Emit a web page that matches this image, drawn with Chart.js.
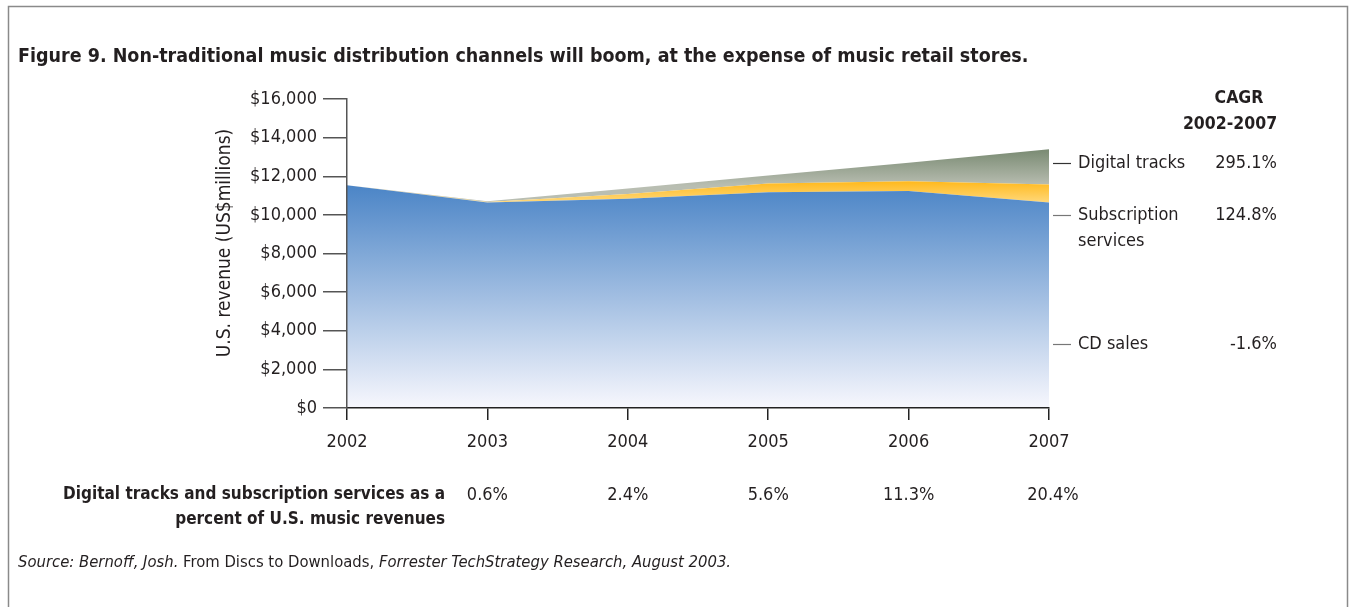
<!DOCTYPE html>
<html>
<head>
<meta charset="utf-8">
<script src="https://cdn.jsdelivr.net/npm/chart.js@4.4.1/dist/chart.umd.min.js"></script>
<style>
  html, body { margin: 0; padding: 0; background: #fff; }
  #wrap { width: 1351px; height: 607px; position: relative; }
</style>
</head>
<body>
<div id="wrap"><canvas id="revenue"></canvas></div>
<script>
// US music revenue by channel, $ millions (stacked)
const years = ['2002', '2003', '2004', '2005', '2006', '2007'];
const cdSales = [11530, 10640, 10830, 11170, 11240, 10640];
const subscriptions = [0, 25, 250, 450, 500, 930];
const digitalTracks = [0, 40, 280, 420, 960, 1830];
const yTicks = [0, 2000, 4000, 6000, 8000, 10000, 12000, 14000, 16000];

// share of digital + subscription in total music revenues (%)
const digitalShare = [null, 0.6, 2.4, 5.6, 11.3, 20.4];
// compound annual growth 2002-2007 (%)
const cagrLabels = ['Digital tracks', 'Subscription', 'CD sales'];
const cagrValues = [295.1, 124.8, -1.6];

const FONT = "'Liberation Sans Narrow', 'DejaVu Sans Condensed', 'Liberation Sans', sans-serif";
const INK = '#231f20';

function vGradient(chart, fromVal, toVal, c1, c2, fallback) {
  const { chartArea, scales } = chart;
  if (!chartArea) return fallback;
  const y1 = scales.y.getPixelForValue(fromVal);
  const y2 = scales.y.getPixelForValue(toVal);
  const g = chart.ctx.createLinearGradient(0, y1, 0, y2);
  g.addColorStop(0, c1);
  g.addColorStop(1, c2);
  return g;
}

const decorations = {
  id: 'decorations',
  beforeDraw(chart) {
    const c = chart.ctx;
    c.save();
    c.fillStyle = '#fff';
    c.fillRect(0, 0, chart.width, chart.height);
    c.strokeStyle = '#8a8a8a';
    c.lineWidth = 1.5;
    c.strokeRect(8.5, 6.5, 1339, 620);
    c.restore();
  },
  afterDraw(chart) {
    const c = chart.ctx;
    const x = chart.scales.x;
    c.save();
    c.fillStyle = INK;
    c.textBaseline = 'middle';

    // title
    c.font = 'bold 19.5px ' + FONT;
    c.textAlign = 'left';
    c.fillText('Figure 9. Non-traditional music distribution channels will boom, at the expense of music retail stores.', 18, 57);

    // y axis title
    c.save();
    c.translate(225, 243);
    c.rotate(-Math.PI / 2);
    c.textAlign = 'center';
    c.font = '19px ' + FONT;
    c.fillText('U.S. revenue (US$millions)', 0, 0);
    c.restore();

    // CAGR column
    c.font = 'bold 17.5px ' + FONT;
    c.textAlign = 'center';
    c.fillText('CAGR', 1239, 98);
    c.fillText('2002-2007', 1230, 124);

    const rows = [163, 215, 344];
    c.lineWidth = 1.2;
    rows.forEach((ry, i) => {
      c.strokeStyle = i === 0 ? '#333' : '#777';
      c.beginPath();
      c.moveTo(1053, ry + 0.5);
      c.lineTo(1071, ry + 0.5);
      c.stroke();
      c.font = '18px ' + FONT;
      c.textAlign = 'left';
      c.fillText(cagrLabels[i], 1078, ry);
      c.textAlign = 'right';
      c.fillText(cagrValues[i].toFixed(1) + '%', 1277, ry);
    });
    c.textAlign = 'left';
    c.fillText('services', 1078, 241);

    // share row under the x axis
    c.font = 'bold 17px ' + FONT;
    c.textAlign = 'right';
    c.fillText('Digital tracks and subscription services as a', 445, 495);
    c.fillText('percent of U.S. music revenues', 445, 520);
    c.font = '18px ' + FONT;
    c.textAlign = 'center';
    digitalShare.forEach((v, i) => {
      if (v === null) return;
      c.fillText(v.toFixed(1) + '%', x.getPixelForValue(i) + (i === 5 ? 4 : 0), 495);
    });

    // source line
    c.textAlign = 'left';
    let sx = 18;
    const parts = [
      ['italic 16.5px ', 'Source: Bernoff, Josh.'],
      ['16.5px ', ' From Discs to Downloads, '],
      ['italic 16.5px ', 'Forrester TechStrategy Research, August 2003.']
    ];
    parts.forEach(([f, t]) => {
      c.font = f + FONT;
      c.fillText(t, sx, 563);
      sx += c.measureText(t).width;
    });
    c.restore();
  }
};

new Chart(document.getElementById('revenue'), {
  type: 'line',
  data: {
    labels: years,
    datasets: [
      {
        label: 'CD sales',
        data: cdSales,
        fill: 'origin',
        backgroundColor: (ctx) => vGradient(ctx.chart, 11600, 0, '#4a84c6', '#f7f7fd', '#6d9bd3')
      },
      {
        label: 'Subscription services',
        data: subscriptions,
        fill: '-1',
        backgroundColor: (ctx) => vGradient(ctx.chart, 11800, 10600, '#ffb717', '#ffd97e', '#ffc440')
      },
      {
        label: 'Digital tracks',
        data: digitalTracks,
        fill: '-1',
        backgroundColor: (ctx) => vGradient(ctx.chart, 13400, 11500, '#798a72', '#b9beb2', '#96a08c')
      }
    ].map(d => Object.assign(d, { borderWidth: 0, pointRadius: 0, tension: 0 }))
  },
  options: {
    responsive: true,
    maintainAspectRatio: false,
    animation: false,
    devicePixelRatio: 1,
    layout: { padding: { left: 0, right: 302, top: 99, bottom: 0 } },
    plugins: { legend: { display: false }, tooltip: { enabled: false } },
    scales: {
      x: {
        offset: false,
        afterFit: (s) => { s.height = 607 - 99 - 309; },
        grid: { drawOnChartArea: false, drawTicks: true, tickLength: 12, color: '#222', lineWidth: 1.5 },
        border: { color: '#222', width: 1.5, z: 1 },
        ticks: { font: { family: FONT, size: 18 }, color: INK, padding: 12 }
      },
      y: {
        stacked: true,
        min: 0,
        max: 16000,
        afterFit: (s) => { s.width = 347; },
        afterBuildTicks: (s) => { s.ticks = yTicks.map(v => ({ value: v })); },
        grid: { drawOnChartArea: false, drawTicks: true, tickLength: 24, color: '#555', lineWidth: 1.5 },
        border: { color: '#555', width: 1.5, z: 1 },
        ticks: {
          font: { family: FONT, size: 18 }, color: INK, padding: 6,
          callback: (v) => '$' + v.toLocaleString('en-US')
        }
      }
    }
  },
  plugins: [decorations]
});
</script>
</body>
</html>
